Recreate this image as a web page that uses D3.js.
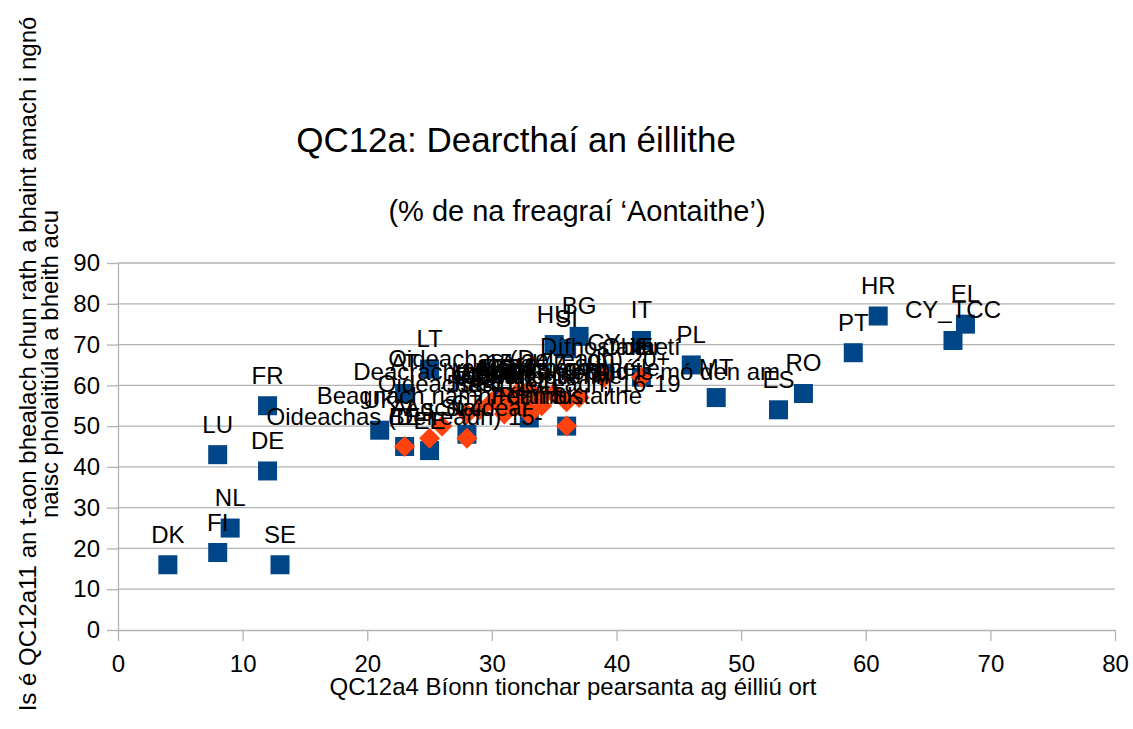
<!DOCTYPE html>
<html>
<head>
<meta charset="utf-8">
<script src="https://cdn.jsdelivr.net/npm/d3@7"></script>
<style>
  html, body { margin: 0; padding: 0; background: #ffffff; }
  svg { display: block; font-family: "Liberation Sans", Arial, sans-serif; }
</style>
</head>
<body>
<svg id="chart" width="1133" height="729"></svg>
<script>
// Countries (series 1, blue squares)
const countries = ["DK","FI","NL","SE","LU","DE","FR","UK","EE","CZ","LV","SK","CY","IE","BE","AE28","AT","LT","HU","SI","BG","IT","PL","MT","ES","RO","PT","HR","EL","CY_TCC"];
const countryX  = [4, 8, 9, 13, 8, 12, 12, 21, 25, 28, 33, 36, 39, 42, 23, 31, 23, 25, 35, 36, 37, 42, 46, 48, 53, 55, 59, 61, 68, 67];
const countryY  = [16, 19, 25, 16, 43, 39, 55, 49, 44, 48, 52, 50, 63, 62, 45, 57, 58, 64, 70, 69, 72, 71, 65, 57, 54, 58, 68, 77, 75, 71];

// Socio-demographic groups (series 2, orange diamonds)
const groups = ["Oideachas (Deireadh) 15-", "Ar scor", "Ag Staidéar", "Beagnach riamh/Riamh",
  "Oideachas (Deireadh) 16-19", "Féinfhostaithe", "Dífhostaithe", "Obair tí",
  "Deacrachtaí billí: an chuid is mó den am", "Ó am go chéile", "Fear", "Bean",
  "15-24", "25-39", "40-54", "55+", "Oideachas (Deireadh) 20+", "Bainisteoirí",
  "Oibrithe eile", "Oibrithe láimhe", "Íseal (1-4)", "Meánach (5-6)", "Ard (7-10)"];
const groupX = [23, 25, 28, 26, 33, 36, 39, 42, 36, 37, 29, 31, 32, 30, 31, 28, 33, 34, 32, 34, 31, 33, 35];
const groupY = [45, 47, 47, 50, 53, 50, 62, 62, 56, 57, 54, 55, 58, 56, 57, 53, 59, 57, 55, 55, 53, 56, 58];

const xTicks = [0, 10, 20, 30, 40, 50, 60, 70, 80];
const yTicks = [0, 10, 20, 30, 40, 50, 60, 70, 80, 90];

const title = "QC12a: Dearcthaí an éillithe";
const subtitle = "(% de na freagraí ‘Aontaithe’)";
const xTitle = "QC12a4 Bíonn tionchar pearsanta ag éilliú ort";
const yTitleLines = ["Is é QC12a11 an t-aon bhealach chun rath a bhaint amach i ngnó",
                     "naisc pholaitiúla a bheith acu"];

const svg = d3.select("#chart");
const gridColor = "#b3b3b3";
const blue = "#004586", orange = "#ff420e";

const x = d3.scaleLinear().domain([0, 80]).range([118, 1115]);
const y = d3.scaleLinear().domain([0, 90]).range([630, 263]);

// horizontal gridlines
svg.append("g").selectAll("line").data(yTicks.filter(d => d > 0)).join("line")
  .attr("x1", x(0)).attr("x2", x(80))
  .attr("y1", d => y(d)).attr("y2", d => y(d))
  .attr("stroke", gridColor).attr("stroke-width", 1.3);

// axes
const yAxis = svg.append("g").attr("transform", `translate(${x(0)},0)`)
  .call(d3.axisLeft(y).tickValues(yTicks).tickSize(11).tickSizeOuter(0).tickPadding(7));
const xAxis = svg.append("g").attr("transform", `translate(0,${y(0)})`)
  .call(d3.axisBottom(x).tickValues(xTicks).tickSize(11).tickSizeOuter(0).tickPadding(14));
[xAxis, yAxis].forEach(g => {
  g.selectAll("path, line").attr("stroke", gridColor).attr("stroke-width", 1.3);
  g.selectAll("text").attr("font-size", 24).attr("fill", "#000")
    .attr("font-family", '"Liberation Sans", Arial, sans-serif');
});

// blue squares
const sq = 19;
svg.append("g").selectAll("rect").data(countries).join("rect")
  .attr("x", (d, i) => x(countryX[i]) - sq / 2)
  .attr("y", (d, i) => y(countryY[i]) - sq / 2)
  .attr("width", sq).attr("height", sq)
  .attr("fill", blue);

// orange diamonds
const r = 10.5;
svg.append("g").selectAll("path").data(groups).join("path")
  .attr("d", (d, i) => {
    const cx = x(groupX[i]), cy = y(groupY[i]);
    return `M${cx},${cy - r}L${cx + r},${cy}L${cx},${cy + r}L${cx - r},${cy}Z`;
  })
  .attr("fill", orange);

// data labels, centred above each mark
const lab = svg.append("g").attr("font-size", 24).attr("fill", "#000").attr("text-anchor", "middle");
lab.selectAll("text.c").data(countries).join("text").attr("class", "c")
  .attr("x", (d, i) => x(countryX[i]))
  .attr("y", (d, i) => y(countryY[i]) - 22)
  .text(d => d);
lab.selectAll("text.g").data(groups).join("text").attr("class", "g")
  .attr("x", (d, i) => x(groupX[i]))
  .attr("y", (d, i) => y(groupY[i]) - 22)
  .text(d => d);

// titles
svg.append("text").attr("x", 516).attr("y", 152).attr("text-anchor", "middle")
  .attr("font-size", 35).text(title);
svg.append("text").attr("x", 577).attr("y", 221).attr("text-anchor", "middle")
  .attr("font-size", 29).text(subtitle);
svg.append("text").attr("x", 573).attr("y", 695).attr("text-anchor", "middle")
  .attr("font-size", 24).text(xTitle);
const yt = svg.append("text").attr("transform", "translate(36,364) rotate(-90)")
  .attr("text-anchor", "middle").attr("font-size", 24);
yTitleLines.forEach((t, i) => {
  yt.append("tspan").attr("x", 0).attr("y", i * 22).text(t);
});
</script>
</body>
</html>
